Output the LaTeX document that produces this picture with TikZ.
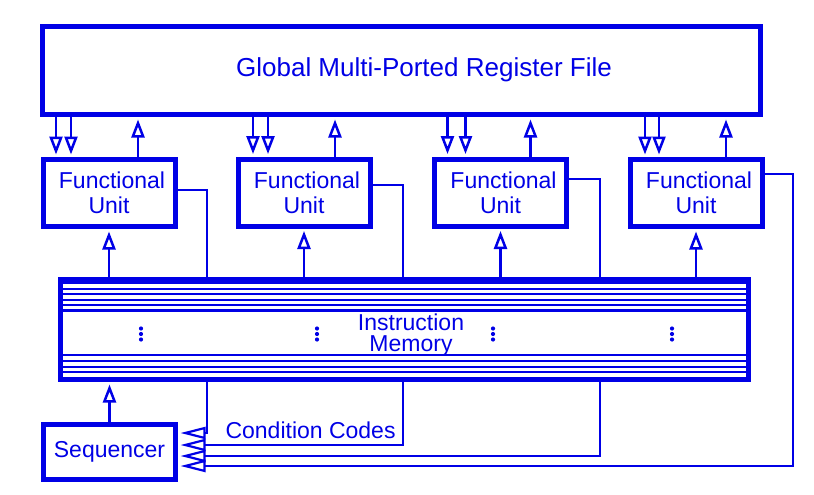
\documentclass[tikz,border=0pt]{standalone}
\usepackage{fontspec}
\setmainfont{Liberation Sans}
\usetikzlibrary{arrows.meta}
\definecolor{bl}{RGB}{0,0,230}
\begin{document}
\begin{tikzpicture}[x=1pt,y=-1pt,
  box/.style={draw=bl, line width=5pt, inner sep=0pt, fill=white, text=bl, align=center},
  lbl/.style={text=bl, align=center},
  conn/.style={draw=bl, line width=2.5pt},
  oa/.style={conn, -{Triangle[open,length=18pt,width=13pt]}, shorten >=2.5pt},
  sa/.style={conn, line width=2.2pt, -{Triangle[open,length=25pt,width=12pt]}, shorten >=2.5pt},
  imline/.style={draw=bl, line width=2pt},
  dotc/.style={fill=bl, draw=none}
]
\useasboundingbox (0,0) rectangle (814,495);

% Register file
\node[box, minimum width=718pt, minimum height=88pt] (rf) at (401.5,70.5) {};
\node[lbl, font=\fontsize{26}{28}\selectfont] (rft) at (424,70) {Global Multi-Ported Register File};

% Functional units
\foreach \n/\x/\y in {fu1/109/193, fu2/304/192.5, fu3/500.5/192.5, fu4/696/193}{
  \node[box, minimum width=132pt, minimum height=67pt, font=\fontsize{23}{25}\selectfont]
    (\n) at (\x,\y) {\hspace*{6pt}Functional\\Unit};
}

% Instruction memory
\node[box, minimum width=688pt, minimum height=100pt] (im) at (404.5,329.5) {};
\foreach \d in {5.5,11.5,16.5,22.5,27.5,77.5,83.5,89.5,94.5}{
  \draw[imline] ([yshift=-\d pt]im.north west) -- ([yshift=-\d pt]im.north east);
}
\draw[imline, line width=3.5pt] ([yshift=-33.5pt]im.north west) -- ([yshift=-33.5pt]im.north east);
\node[lbl, font=\fontsize{23}{21}\selectfont, inner sep=0pt] (imt) at (411,335) {Instruction\\Memory};
\foreach \x in {141,317,493,672}{
  \foreach \yy in {328.5,334,339.5}{
    \fill[dotc] (\x,\yy) circle (2.1pt);
  }
}

% Sequencer
\node[box, minimum width=132pt, minimum height=55pt, font=\fontsize{23}{25}\selectfont]
  (seq) at (109.5,452) {\raisebox{5pt}{Sequencer}};

% bus x positions
\coordinate (b1) at (207,300);
\coordinate (b2) at (403,300);
\coordinate (b3) at (600,300);
\coordinate (b4) at (793,300);

% RF <-> FU arrows
\foreach \f/\a/\b/\c in {fu1/15.5/30.5/97.5, fu2/17.5/32.5/99.5, fu3/15.5/33.5/98.5, fu4/17.5/31.5/98.5}{
  \path ([xshift=\a pt]\f.north west) coordinate (\f-d1)
        ([xshift=\b pt]\f.north west) coordinate (\f-d2)
        ([xshift=\c pt]\f.north west) coordinate (\f-u);
  \draw[oa] (rf.south -| \f-d1) -- (\f-d1);
  \draw[oa] (rf.south -| \f-d2) -- (\f-d2);
  \draw[oa] (\f-u) -- (rf.south -| \f-u);
  \draw[oa] (im.north -| \f) -- (\f.south);
}

% FU -> condition code lines
\draw[conn] ([yshift=3pt]fu1.east) -| (b1 |- im.north);
\draw[conn] ([yshift=7.5pt]fu2.east) -| (b2 |- im.north);
\draw[conn] ([yshift=13.5pt]fu3.east) -| (b3 |- im.north);

% lines into sequencer
\draw[sa] (b1 |- im.south) |- ([yshift=19pt]seq.east);
\draw[sa] (b2 |- im.south) |- ([yshift=7pt]seq.east);
\draw[sa] (b3 |- im.south) |- ([yshift=-4pt]seq.east);
\draw[sa] ([yshift=19pt]fu4.east) -| (b4) |- ([yshift=-14pt]seq.east);

\node[lbl, font=\fontsize{23}{25}\selectfont, anchor=base west] (cc) at (222,438) {Condition Codes};

% sequencer -> IM
\draw[oa] (seq.north) -- (seq.north |- im.south);
\end{tikzpicture}
\end{document}
